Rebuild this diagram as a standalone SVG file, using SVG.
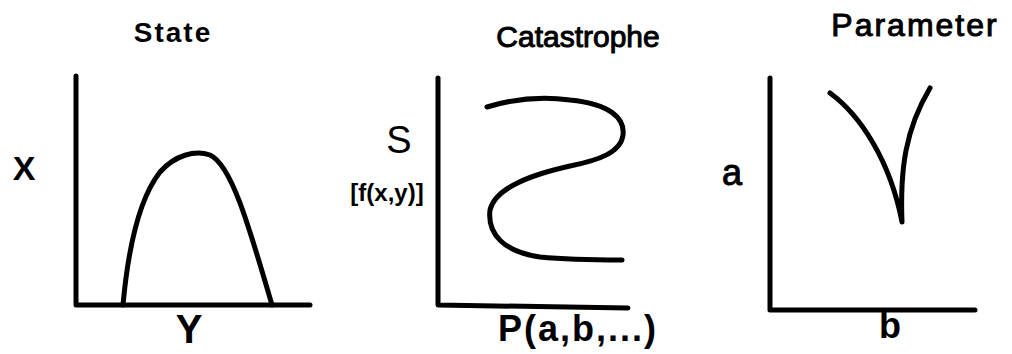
<svg xmlns="http://www.w3.org/2000/svg" width="1012" height="354" viewBox="0 0 1012 354">
<style>
.ax{fill:none;stroke:#000;stroke-width:5;stroke-linecap:round;stroke-linejoin:round}
.cv{fill:none;stroke:#000;stroke-width:5;stroke-linecap:round;stroke-linejoin:round}
.t{font-family:"Liberation Sans",Arial,sans-serif;fill:#000;text-anchor:middle}
.b{font-weight:bold}
.m{stroke:#000;stroke-width:1}
</style>
<rect width="1012" height="354" fill="#fff"/>
<g id="state">
<path class="ax" d="M76,76 L76,305 L310,305"/>
<path class="cv" d="M123,305 C128,250 138,200 160,172 C175,155 195,150 210,155 C232,165 250,230 272,305"/>
<text class="t b" x="173" y="42" font-size="28" letter-spacing="2">State</text>
<text class="t b" x="24" y="180" font-size="34">X</text>
<text class="t b" x="189" y="343" font-size="40">Y</text>
</g>
<g id="catastrophe">
<path class="ax" d="M438,78 L438,305 L628,308"/>
<path class="cv" d="M487,107 C510,100 540,96 570,100 C610,104 625,118 623,135 C621,152 600,160 570,166 C530,175 495,188 490,210 C487,235 505,252 540,257 C570,260 600,260 622,260"/>
<text class="t m" x="578" y="47" font-size="30">Catastrophe</text>
<text class="t" x="399" y="153" font-size="38">S</text>
<text class="t b" x="387" y="201" font-size="24">[f(x,y)]</text>
<text class="t b" x="578" y="341" font-size="36" letter-spacing="2">P(a,b,...)</text>
</g>
<g id="parameter">
<path class="ax" d="M770,78 L770,310 L975,310"/>
<path class="cv" d="M830,93 C860,115 890,160 902,222 C900,170 905,130 930,88"/>
<text class="t m" x="915" y="36" font-size="32" letter-spacing="2">Parameter</text>
<text class="t m" x="732" y="185" font-size="36">a</text>
<text class="t b" x="890" y="338" font-size="36">b</text>
</g>
</svg>
